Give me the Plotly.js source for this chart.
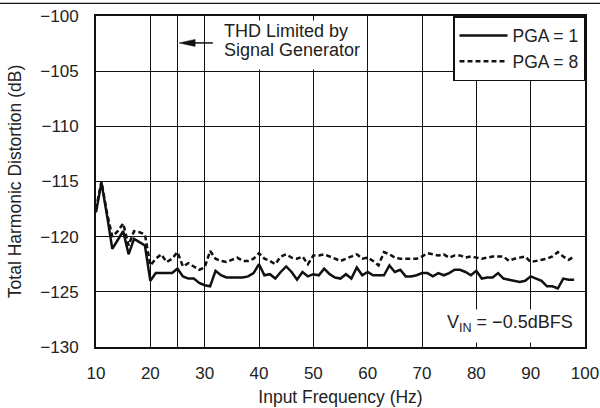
<!DOCTYPE html>
<html>
<head>
<meta charset="utf-8">
<script src="https://cdn.plot.ly/plotly-3.0.1.min.js"></script>
<style>html,body{margin:0;padding:0;background:#fff;}#chart{width:600px;height:408px;}</style>
</head>
<body>
<div id="chart"></div>
<script>
// Input frequency (Hz)
var freq = [10,11,12,13,14,15,16,17,18,19,20,21,22,23,24,25,26,27,28,29,30,31,32,33,34,35,36,37,38,39,40,41,42,43,44,45,46,47,48,49,50,51,52,53,54,55,56,57,58,59,60,61,62,63,64,65,66,67,68,69,70,71,72,73,74,75,76,77,78,79,80,81,82,83,84,85,86,87,88,89,90,91,92,93,94,95,96,97,98];
// THD (dB), PGA = 1
var thdPga1 = [-117.8,-115.1,-118.0,-121.1,-120.3,-119.5,-121.6,-120.2,-120.5,-120.8,-124.0,-123.3,-123.3,-123.3,-123.3,-122.9,-123.6,-123.8,-123.8,-124.2,-124.4,-124.5,-123.1,-123.5,-123.7,-123.7,-123.7,-123.7,-123.6,-123.3,-122.5,-123.5,-123.4,-123.8,-123.2,-122.7,-123.2,-123.9,-123.2,-123.6,-123.4,-123.5,-122.9,-123.4,-123.7,-123.8,-123.4,-123.8,-122.8,-123.5,-123.2,-123.5,-123.5,-123.5,-122.6,-123.2,-123.0,-123.6,-123.6,-123.5,-123.3,-123.3,-123.6,-123.3,-123.5,-123.3,-123.0,-123.0,-123.2,-123.5,-123.1,-123.8,-123.7,-123.7,-123.3,-123.8,-123.9,-124.0,-124.1,-124.0,-123.6,-123.8,-124.0,-124.5,-124.5,-124.7,-123.8,-123.9,-123.9];
// THD (dB), PGA = 8
var thdPga8 = [-117.5,-115.0,-117.8,-120.0,-119.5,-118.8,-120.8,-119.5,-119.6,-119.8,-122.6,-122.0,-121.6,-122.3,-122.0,-121.4,-122.7,-122.4,-122.7,-123.0,-122.8,-121.3,-122.0,-122.2,-122.3,-122.1,-121.9,-122.2,-122.2,-122.0,-121.5,-122.0,-122.2,-122.5,-121.8,-121.6,-121.9,-122.0,-121.8,-122.5,-121.7,-121.7,-121.6,-121.8,-122.0,-122.2,-122.0,-121.8,-121.6,-122.0,-121.9,-122.2,-122.6,-121.4,-121.6,-121.9,-122.0,-122.0,-122.0,-122.0,-121.8,-121.5,-121.6,-121.7,-121.6,-121.9,-121.7,-121.7,-121.9,-121.8,-121.9,-122.0,-121.9,-121.8,-121.8,-121.8,-122.2,-122.0,-121.9,-121.8,-122.3,-122.2,-122.1,-122.0,-121.8,-121.4,-121.8,-122.1,-121.8];
var seriesNames = ['PGA = 1', 'PGA = 8'];
var xTicks = [10,20,30,40,50,60,70,80,90,100];
var yTicks = [-130,-125,-120,-115,-110,-105,-100];

var FONT = 'Liberation Sans, Arial, sans-serif';
var TXT = '#222';

var traces = [
  {x: freq, y: thdPga1, name: seriesNames[0], type: 'scatter', mode: 'lines',
   line: {color: '#111', width: 2.5}},
  {x: freq, y: thdPga8, name: seriesNames[1], type: 'scatter', mode: 'lines',
   line: {color: '#111', width: 2.5, dash: '5px,3px'}}
];

var layout = {
  width: 600, height: 408,
  margin: {l: 96, r: 15, t: 16, b: 61, pad: 0},
  paper_bgcolor: '#fff', plot_bgcolor: '#fff',
  font: {family: FONT, size: 17, color: TXT},
  showlegend: true,
  legend: {x: 1, xanchor: 'right', y: 1, yanchor: 'top', bgcolor: '#fff', itemwidth: 48,
           bordercolor: '#111', borderwidth: 1.5, font: {family: FONT, size: 17.5, color: TXT}},
  xaxis: {range: [10, 100], tickvals: xTicks, ticks: '', ticklabelstandoff: 10,
          showgrid: true, gridcolor: '#111', gridwidth: 1,
          showline: true, linecolor: '#111', linewidth: 2, mirror: true, zeroline: false,
          tickfont: {family: FONT, size: 17, color: TXT},
          title: {text: 'Input Frequency (Hz)', font: {family: FONT, size: 17.5, color: TXT}, standoff: 8}},
  yaxis: {range: [-130, -100], tickvals: yTicks, ticks: '', ticklabelstandoff: 12,
          showgrid: true, gridcolor: '#111', gridwidth: 1,
          showline: true, linecolor: '#111', linewidth: 2, mirror: true, zeroline: false,
          tickfont: {family: FONT, size: 17, color: TXT},
          title: {text: 'Total Harmonic Distortion (dB)', font: {family: FONT, size: 17.5, color: TXT}, standoff: 14}},
  shapes: [
    // extra grid line at 25 Hz
    {type: 'line', xref: 'x', yref: 'y', x0: 25, x1: 25, y0: -130, y1: -100, layer: 'below',
     line: {color: '#111', width: 1}},
    // white boxes behind the notes
    {type: 'rect', xref: 'x', yref: 'y', x0: 31.2, x1: 59.7, y0: -104.85, y1: -100.4, layer: 'between',
     fillcolor: '#fff', line: {width: 0}},
    {type: 'rect', xref: 'x', yref: 'y', x0: 71.5, x1: 99.8, y0: -129.6, y1: -126.6, layer: 'between',
     fillcolor: '#fff', line: {width: 0}},
    // arrow shaft
    {type: 'line', xref: 'x', yref: 'y', x0: 27.5, x1: 31.5, y0: -102.44, y1: -102.44, layer: 'above',
     line: {color: '#111', width: 1.5}},
    // arrow head
    {type: 'path', xref: 'x', yref: 'y', xsizemode: 'pixel', ysizemode: 'pixel', xanchor: 25.3, yanchor: -102.44,
     path: 'M0,0 L16,3.5 L16,-3.5 Z', fillcolor: '#111', line: {color: '#111', width: 0.5}, layer: 'above'},
    // top rule across the page
    {type: 'line', xref: 'paper', yref: 'paper', x0: -0.2, x1: 1.04, y0: 1.038, y1: 1.038,
     line: {color: '#111', width: 1.2}}
  ],
  annotations: [
    {xref: 'x', yref: 'y', x: 33.2, y: -101.38, xanchor: 'left', yanchor: 'middle', showarrow: false,
     text: 'THD Limited by', font: {family: FONT, size: 18, color: TXT}},
    {xref: 'x', yref: 'y', x: 33.2, y: -103.05, xanchor: 'left', yanchor: 'middle', showarrow: false,
     text: 'Signal Generator', font: {family: FONT, size: 18, color: TXT}},
    {xref: 'x', yref: 'y', x: 74.2, y: -127.9, xanchor: 'left', yanchor: 'middle', showarrow: false,
     text: 'V<sub>IN</sub> = \u22120.5dBFS', font: {family: FONT, size: 18, color: TXT}}
  ]
};

Plotly.newPlot('chart', traces, layout, {displayModeBar: false, staticPlot: true});
</script>
</body>
</html>
